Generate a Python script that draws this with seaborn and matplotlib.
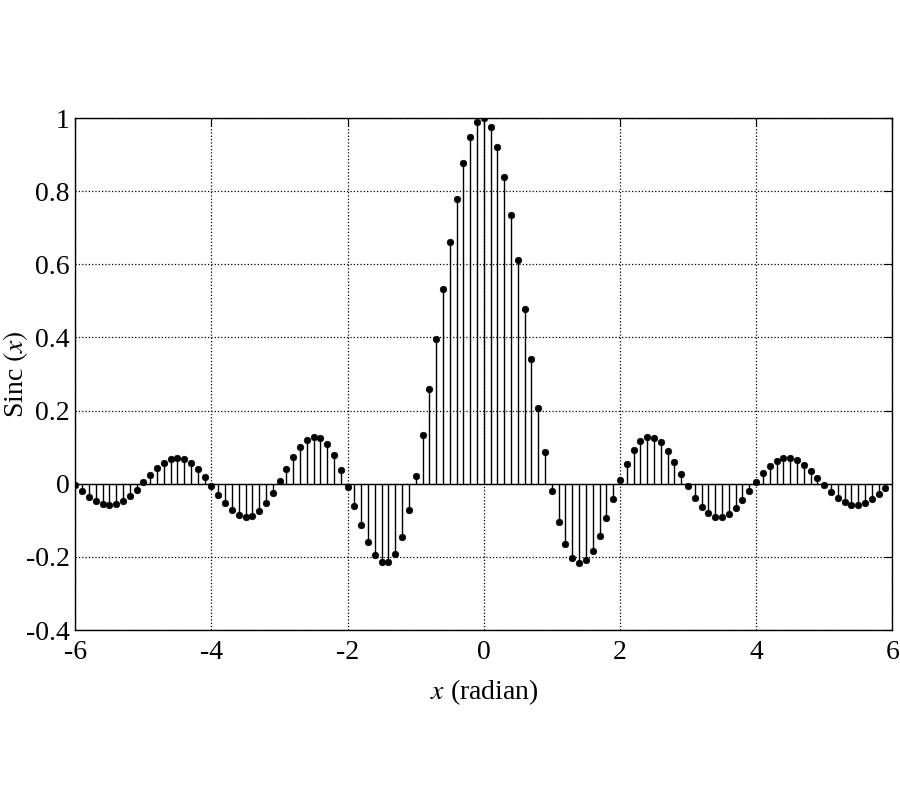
import numpy as np
import pandas as pd
import matplotlib
matplotlib.use("Agg")
import matplotlib.pyplot as plt
import seaborn as sns

# Sample values (x = -6.0 ... 5.9, step 0.1)
sinc_values = [
    -0.003, -0.020, -0.035, -0.047, -0.055, -0.058, -0.055, -0.046, -0.033, -0.016,
    0.004, 0.024, 0.042, 0.057, 0.067, 0.071, 0.068, 0.057, 0.041, 0.019,
    -0.005, -0.030, -0.054, -0.073, -0.086, -0.091, -0.088, -0.075, -0.054, -0.026,
    0.007, 0.041, 0.073, 0.100, 0.120, 0.128, 0.124, 0.108, 0.078, 0.038,
    -0.010, -0.062, -0.114, -0.160, -0.195, -0.215, -0.214, -0.192, -0.145, -0.073,
    0.020, 0.133, 0.260, 0.395, 0.532, 0.662, 0.779, 0.876, 0.948, 0.990,
    0.999, 0.976, 0.922, 0.840, 0.734, 0.611, 0.477, 0.341, 0.208, 0.086,
    -0.020, -0.105, -0.166, -0.204, -0.217, -0.209, -0.183, -0.143, -0.094, -0.041,
    0.010, 0.055, 0.091, 0.116, 0.127, 0.126, 0.113, 0.090, 0.060, 0.027,
    -0.007, -0.038, -0.063, -0.081, -0.090, -0.090, -0.082, -0.066, -0.045, -0.020,
    0.005, 0.028, 0.048, 0.062, 0.070, 0.070, 0.064, 0.052, 0.035, 0.016,
    -0.004, -0.023, -0.039, -0.051, -0.057, -0.058, -0.053, -0.043, -0.029, -0.013,
]
x_first, x_last = -6.0, 5.9
x_ticks = [-6, -4, -2, 0, 2, 4, 6]
y_ticks = [-0.4, -0.2, 0, 0.2, 0.4, 0.6, 0.8, 1]
y_tick_labels = ["-0.4", "-0.2", "0", "0.2", "0.4", "0.6", "0.8", "1"]

x_values = np.linspace(x_first, x_last, len(sinc_values))
df = pd.DataFrame({"x": x_values, "y": sinc_values})

sns.set_theme(style="white")
plt.rcParams["font.family"] = ["Liberation Serif", "DejaVu Serif"]
plt.rcParams["mathtext.fontset"] = "stix"
plt.rcParams["axes.unicode_minus"] = False

fig = plt.figure(figsize=(9, 8), dpi=100)
ax = fig.add_axes([0.0837, 0.2125, 0.9077, 0.64])

ax.axhline(0, color="black", lw=1.0, zorder=2)
ax.vlines(df["x"], 0, df["y"], color="black", lw=1.0, zorder=3)
sns.scatterplot(data=df, x="x", y="y", ax=ax, color="black", s=22,
                edgecolor="black", linewidth=0.5, zorder=4, legend=False)

ax.set_xlim(-6, 6)
ax.set_ylim(-0.4, 1)
ax.set_xticks(x_ticks)
ax.set_xticklabels([str(t) for t in x_ticks])
ax.set_yticks(y_ticks)
ax.set_yticklabels(y_tick_labels)
ax.tick_params(axis="both", direction="in", length=6, width=0.8,
               labelsize=20, color="black", labelcolor="black",
               top=True, right=True)
ax.tick_params(axis="y", pad=4)
ax.tick_params(axis="x", pad=7)
ax.grid(True, color="black", linestyle=":", linewidth=0.9)
for sp in ax.spines.values():
    sp.set_color("black")
    sp.set_linewidth(1.0)

ax.set_xlabel(r"$x$ (radian)", fontsize=20, color="black")
ax.set_ylabel(r"Sinc $(x)$", fontsize=20, color="black")
ax.xaxis.set_label_coords(0.5, -0.092)
ax.yaxis.set_label_coords(-0.056, 0.5)

fig.savefig("out.png", dpi=100, facecolor="white")
